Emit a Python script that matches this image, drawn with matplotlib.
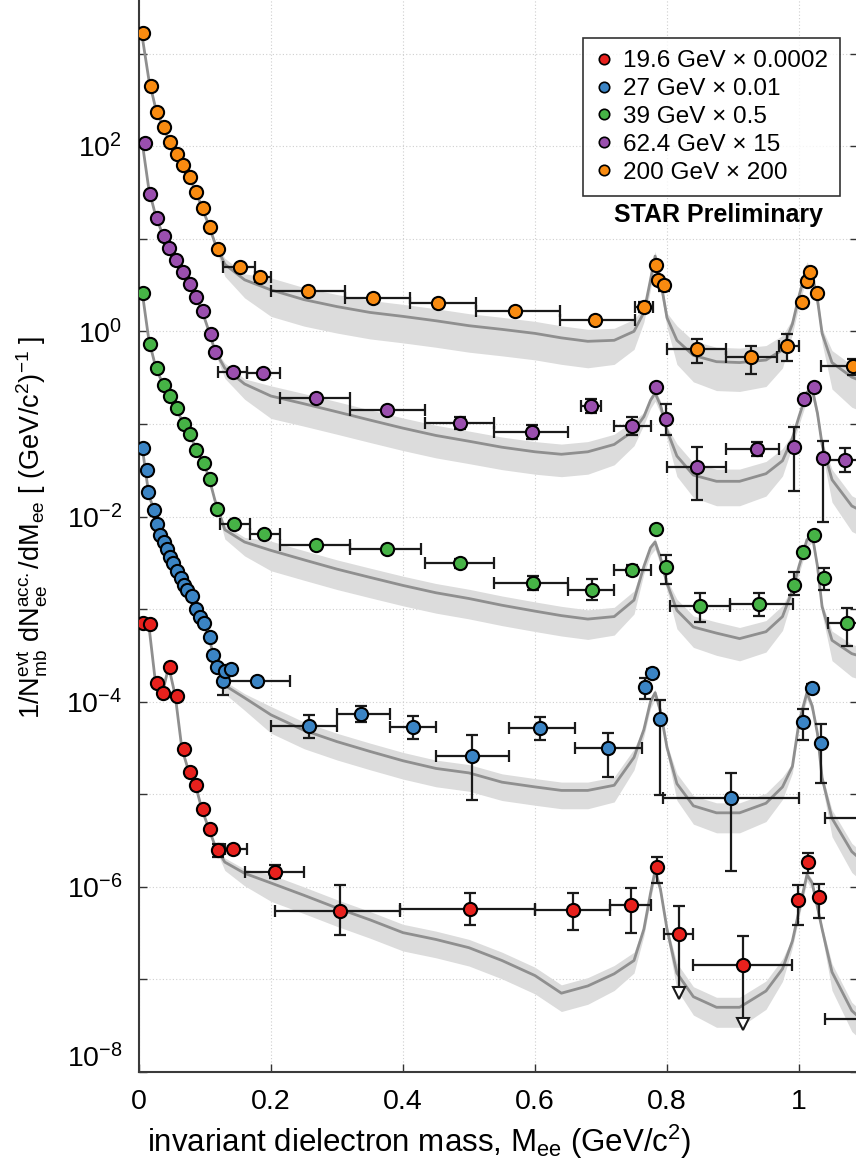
import numpy as np
import matplotlib.pyplot as plt
import matplotlib.transforms as mtransforms
from matplotlib.ticker import FixedLocator, FuncFormatter, NullLocator
from matplotlib.lines import Line2D

plt.rcParams['font.family'] = ['Liberation Sans', 'DejaVu Sans']
plt.rcParams['mathtext.fontset'] = 'custom'
plt.rcParams['mathtext.rm'] = 'Liberation Sans'
plt.rcParams['mathtext.it'] = 'Liberation Sans:italic'
plt.rcParams['mathtext.bf'] = 'Liberation Sans:bold'
plt.rcParams['mathtext.default'] = 'regular'

na = np.nan

# ---- measured spectra (already scaled) ----
# 19.6 GeV x 0.0002
RED_M = [0.0065, 0.017, 0.027, 0.037, 0.047, 0.057, 0.068, 0.077, 0.086, 0.097, 0.108, 0.12,
         0.143, 0.206, 0.305, 0.502, 0.658, 0.745, 0.785, 0.818, 0.915, 0.999, 1.014, 1.03, 1.10]
RED_Y = [7.1e-4, 6.9e-4, 1.58e-4, 1.23e-4, 2.38e-4, 1.16e-4, 3.08e-5, 1.75e-5, 1.26e-5, 6.87e-6, 4.18e-6, 2.49e-6,
         2.54e-6, 1.45e-6, 5.5e-7, 5.75e-7, 5.6e-7, 6.35e-7, 1.63e-6, 3.07e-7, 1.43e-7, 7.2e-7, 1.87e-6, 7.7e-7, 3.7e-8]
RED_XLO = [na]*12 + [0.13, 0.16, 0.206, 0.395, 0.6, 0.714, na, 0.795, 0.84, na, na, na, 1.04]
RED_XHI = [na]*12 + [0.163, 0.25, 0.395, 0.6, 0.714, 0.776, na, 0.84, 0.99, na, na, na, 1.16]
RED_YLO = [na]*11 + [2.1e-6, na, 1.25e-6, 3.0e-7, 3.86e-7, 3.4e-7, 3.2e-7, 1.11e-6, 7.1e-8, 3.3e-8, 3.86e-7, 1.42e-6, 4.57e-7, na]
RED_YHI = [na]*11 + [2.9e-6, na, 1.7e-6, 1.04e-6, 8.57e-7, 8.6e-7, 9.64e-7, 2.11e-6, 6.25e-7, 2.97e-7, 1.04e-6, 2.3e-6, 1.07e-6, na]
RED_LIMIT = [False]*19 + [True, True] + [False]*4

# 27 GeV x 0.01
BLUE_M = [0.0056, 0.0117, 0.014, 0.023, 0.027, 0.032, 0.038, 0.042, 0.047, 0.052, 0.057, 0.063, 0.068,
          0.073, 0.08, 0.087, 0.093, 0.098, 0.107, 0.112, 0.118, 0.127, 0.13, 0.139, 0.179,
          0.258, 0.336, 0.415, 0.505, 0.608, 0.71, 0.767, 0.778, 0.789, 0.897, 1.006, 1.02, 1.033, 1.10]
BLUE_Y = [0.0552, 0.0317, 0.0185, 0.0119, 0.00828, 0.0063, 0.00533, 0.00442, 0.00367, 0.00311, 0.00259, 0.00214, 0.00182,
          0.0016, 0.00138, 0.00099, 0.00083, 0.00071, 5.02e-4, 3.18e-4, 2.38e-4, 1.67e-4, 2.16e-4, 2.23e-4, 1.67e-4,
          5.46e-5, 7.35e-5, 5.32e-5, 2.59e-5, 5.19e-5, 3.13e-5, 1.45e-4, 2.02e-4, 6.49e-5, 9.16e-6, 6.07e-5, 1.41e-4, 3.6e-5, 5.6e-6]
BLUE_XLO = [na]*24 + [0.13, 0.2, 0.3, 0.38, 0.45, 0.56, 0.66, na, na, na, 0.794, na, na, na, 1.04]
BLUE_XHI = [na]*24 + [0.229, 0.3, 0.38, 0.45, 0.56, 0.66, 0.762, na, na, na, 1.0, na, na, na, 1.16]
BLUE_YLO = [na]*21 + [1.18e-4, na, na, na, 4.05e-5, 6.0e-5, 4.0e-5, 8.65e-6, 3.9e-5, 1.55e-5,
                      1.06e-4, 1.8e-4, 9.8e-6, 1.49e-6, 3.85e-5, 1.3e-4, 1.33e-5, na]
BLUE_YHI = [na]*21 + [2.4e-4, na, na, na, 7.16e-5, 9.0e-5, 7.0e-5, 4.35e-5, 6.9e-5, 4.55e-5,
                      1.8e-4, 2.25e-4, 1.04e-4, 1.68e-5, 8.26e-5, 1.55e-4, 5.73e-5, na]

# 39 GeV x 0.5
GREEN_M = [0.0065, 0.017, 0.027, 0.038, 0.047, 0.057, 0.068, 0.078, 0.087, 0.098, 0.108, 0.118, 0.144, 0.189,
           0.268, 0.376, 0.486, 0.597, 0.686, 0.747, 0.783, 0.798, 0.85, 0.94, 0.993, 1.0065, 1.022, 1.038, 1.072]
GREEN_Y = [2.61, 0.728, 0.397, 0.262, 0.20, 0.147, 0.101, 0.0776, 0.052, 0.0374, 0.0254, 0.0122, 0.0084, 0.0064,
           0.0049, 0.00445, 0.00314, 0.00191, 0.0016, 0.00264, 0.0074, 0.00282, 0.00109, 0.00113, 0.00182, 0.0041, 0.0063, 0.00214, 0.00071]
GREEN_XLO = [na]*12 + [0.122, 0.168, 0.214, 0.32, 0.433, 0.538, 0.65, 0.72, na, na, 0.805, 0.896, na, na, na, na, 1.044]
GREEN_XHI = [na]*12 + [0.168, 0.214, 0.32, 0.428, 0.538, 0.65, 0.72, 0.775, na, na, 0.896, 0.991, na, na, na, na, 1.10]
GREEN_YLO = [na]*16 + [0.0028, 0.0016, 0.00125, 0.00235, na, 0.00186, 0.00073, 0.00085, 0.00142, na, na, 0.0016, 0.0004]
GREEN_YHI = [na]*16 + [0.0035, 0.0023, 0.0021, 0.003, na, 0.00383, 0.00148, 0.00148, 0.00253, na, na, 0.00275, 0.00102]

# 62.4 GeV x 15
PURPLE_M = [0.009, 0.017, 0.027, 0.038, 0.046, 0.056, 0.067, 0.078, 0.086, 0.097, 0.109, 0.115, 0.143, 0.188,
            0.268, 0.376, 0.486, 0.595, 0.685, 0.747, 0.783, 0.798, 0.845, 0.936, 0.992, 1.008, 1.022, 1.036, 1.07]
PURPLE_Y = [108.6, 30.3, 16.8, 10.7, 7.98, 5.87, 4.39, 3.21, 2.36, 1.65, 0.925, 0.60, 0.366, 0.354,
            0.19, 0.141, 0.102, 0.081, 0.155, 0.095, 0.252, 0.112, 0.034, 0.053, 0.056, 0.188, 0.252, 0.043, 0.041]
PURPLE_XLO = [na]*12 + [0.12, 0.164, 0.214, 0.32, 0.433, 0.538, 0.67, 0.72, na, na, 0.80, 0.89, na, na, na, na, 1.04]
PURPLE_XHI = [na]*12 + [0.164, 0.214, 0.32, 0.433, 0.538, 0.65, 0.70, 0.776, na, na, 0.89, 0.97, na, na, na, na, 1.10]
PURPLE_YLO = [na]*16 + [0.088, 0.068, 0.13, 0.075, na, 0.075, 0.015, 0.045, 0.019, na, na, 0.0088, 0.03]
PURPLE_YHI = [na]*16 + [0.118, 0.098, 0.185, 0.12, na, 0.163, 0.056, 0.063, 0.093, na, na, 0.066, 0.055]

# 200 GeV x 200
ORANGE_M = [0.006, 0.018, 0.027, 0.038, 0.047, 0.057, 0.067, 0.077, 0.086, 0.097, 0.108, 0.12, 0.153, 0.183,
            0.256, 0.355, 0.453, 0.57, 0.691, 0.765, 0.783, 0.787, 0.795, 0.845, 0.927, 0.982,
            1.004, 1.012, 1.017, 1.027, 1.082]
ORANGE_Y = [1660, 445, 233, 160, 110, 83, 62, 46, 32, 21.4, 13.3, 7.8, 4.9, 3.85,
            2.7, 2.28, 2.02, 1.65, 1.32, 1.84, 5.19, 3.57, 3.16, 0.643, 0.522, 0.70,
            2.08, 3.51, 4.4, 2.57, 0.42]
ORANGE_XLO = [na]*12 + [0.127, 0.176, 0.2, 0.312, 0.41, 0.51, 0.638, 0.752, na, na, na, 0.80, 0.89, 0.97,
                        na, na, na, na, 1.034]
ORANGE_XHI = [na]*12 + [0.176, 0.2, 0.312, 0.41, 0.51, 0.638, 0.752, 0.779, na, na, na, 0.89, 0.966, 1.0,
                        na, na, na, na, 1.13]
ORANGE_YLO = [na]*19 + [1.6, na, na, 2.75, 0.457, 0.35, 0.48, na, na, na, na, 0.34]
ORANGE_YHI = [na]*19 + [2.1, na, na, 3.5, 0.824, 0.69, 0.93, na, na, na, na, 0.5]

# ---- cocktail simulations ----
MASS_GRID = [0.005, 0.015, 0.025, 0.035, 0.045, 0.055, 0.065, 0.075, 0.085, 0.095, 0.105, 0.115,
             0.13, 0.16, 0.2, 0.25, 0.3, 0.35, 0.4, 0.45, 0.5, 0.55, 0.6, 0.64, 0.68, 0.72, 0.75,
             0.765, 0.775, 0.782, 0.79, 0.8, 0.815, 0.84, 0.875, 0.91, 0.95, 0.975, 0.99, 1.0,
             1.012, 1.02, 1.028, 1.035, 1.05, 1.08, 1.1]
COCKTAIL_RED = [7.0e-4, 6.6e-4, 1.6e-4, 1.2e-4, 2.4e-4, 1.15e-4, 3.1e-5, 1.8e-5, 1.3e-5, 7.0e-6, 4.4e-6, 2.8e-6,
                1.85e-6, 1.4e-6, 1.1e-6, 8.1e-7, 5.9e-7, 4.4e-7, 3.2e-7, 2.7e-7, 2.2e-7, 1.6e-7, 1.1e-7, 7.1e-8,
                8.5e-8, 1.15e-7, 1.6e-7, 3.5e-7, 8.5e-7, 1.5e-6, 9.5e-7, 3.5e-7, 1.17e-7, 6.5e-8, 5.0e-8,
                5.0e-8, 7.5e-8, 1.3e-7, 2.6e-7, 5.5e-7, 1.35e-6, 1.1e-6, 6.0e-7, 3.5e-7, 1.2e-7, 4.6e-8, 3.4e-8]
COCKTAIL_BLUE = [0.055, 0.017, 0.0105, 0.0058, 0.0039, 0.0028, 0.002, 0.00155, 0.0011, 0.00078, 0.00052, 0.00028,
                 1.5e-4, 1.1e-4, 7.2e-5, 4.9e-5, 3.7e-5, 2.9e-5, 2.3e-5, 1.9e-5, 1.7e-5, 1.35e-5, 1.2e-5, 1.1e-5,
                 1.1e-5, 1.25e-5, 2.5e-5, 5e-5, 1.0e-4, 1.25e-4, 8e-5, 3.2e-5, 1.3e-5, 7.5e-6, 6.3e-6,
                 6.3e-6, 8e-6, 1.2e-5, 2.0e-5, 6e-5, 1.25e-4, 9e-5, 4.5e-5, 1.5e-5, 5.5e-6, 2.4e-6, 1.8e-6]
COCKTAIL_GREEN = [2.6, 0.8, 0.42, 0.28, 0.2, 0.15, 0.11, 0.082, 0.057, 0.041, 0.028, 0.015,
                  0.0072, 0.0053, 0.0043, 0.0034, 0.0027, 0.0022, 0.0018, 0.0015, 0.0013, 0.0011, 0.00095, 0.00085,
                  0.00078, 0.00083, 0.00125, 0.0029, 0.0046, 0.0053, 0.0036, 0.0019, 0.00097, 0.00064, 0.00055,
                  0.00048, 0.00057, 0.00083, 0.0016, 0.0029, 0.0056, 0.0063, 0.0029, 0.00106, 0.00046, 0.00033, 0.0003]
COCKTAIL_PURPLE = [108, 34, 18, 11.5, 8.2, 6.0, 4.6, 3.4, 2.45, 1.7, 1.05, 0.62,
                   0.40, 0.27, 0.2, 0.165, 0.135, 0.11, 0.09, 0.075, 0.065, 0.056, 0.05, 0.047,
                   0.05, 0.06, 0.085, 0.12, 0.18, 0.215, 0.16, 0.085, 0.045, 0.028, 0.024,
                   0.024, 0.029, 0.04, 0.07, 0.12, 0.22, 0.24, 0.13, 0.06, 0.025, 0.013, 0.011]
COCKTAIL_ORANGE = [1500, 520, 260, 170, 118, 88, 65, 48, 34, 22, 14.5, 9.0,
                   5.3, 3.6, 2.8, 2.2, 1.85, 1.6, 1.45, 1.3, 1.15, 1.05, 0.95, 0.85,
                   0.78, 0.8, 1.0, 1.6, 3.6, 6.5, 3.6, 1.4, 0.8, 0.55, 0.47,
                   0.46, 0.49, 0.63, 1.2, 2.4, 5.0, 4.0, 2.2, 0.95, 0.46, 0.32, 0.28]

# systematic band of the cocktail, in decades below / above the central line
BAND_DN = [0.02]*12 + [0.10, 0.15] + [0.22]*11 + [0.2, 0.15] + [0.08]*5 + \
          [0.2, 0.22, 0.24, 0.24, 0.22, 0.15] + [0.08]*6 + [0.22, 0.25, 0.25]
BAND_UP = [0.02]*12 + [0.05, 0.05] + [0.1]*13 + [0.04]*5 + [0.12]*6 + [0.04]*6 + [0.1]*3
BAND_RED, BAND_BLUE, BAND_GREEN, BAND_PURPLE, BAND_ORANGE = 0.9, 0.9, 1.0, 1.1, 1.3

LABELS = ['19.6 GeV \u00d7 0.0002', '27 GeV \u00d7 0.01', '39 GeV \u00d7 0.5',
          '62.4 GeV \u00d7 15', '200 GeV \u00d7 200']
COLORS = ['#e8211d', '#3b84c4', '#46b346', '#9a4fae', '#f98b10']

series = [
    (RED_M, RED_Y, RED_XLO, RED_XHI, RED_YLO, RED_YHI, COCKTAIL_RED, BAND_RED),
    (BLUE_M, BLUE_Y, BLUE_XLO, BLUE_XHI, BLUE_YLO, BLUE_YHI, COCKTAIL_BLUE, BAND_BLUE),
    (GREEN_M, GREEN_Y, GREEN_XLO, GREEN_XHI, GREEN_YLO, GREEN_YHI, COCKTAIL_GREEN, BAND_GREEN),
    (PURPLE_M, PURPLE_Y, PURPLE_XLO, PURPLE_XHI, PURPLE_YLO, PURPLE_YHI, COCKTAIL_PURPLE, BAND_PURPLE),
    (ORANGE_M, ORANGE_Y, ORANGE_XLO, ORANGE_XHI, ORANGE_YLO, ORANGE_YHI, COCKTAIL_ORANGE, BAND_ORANGE),
]

EBAR = '#1a1a1a'

fig = plt.figure(figsize=(8.56, 11.66), dpi=100)
ax = fig.add_axes([139/856, 94/1166, 719.4/856, 1111/1166])

grid = np.array(MASS_GRID)
dn = np.array(BAND_DN)
up = np.array(BAND_UP)

for (m, y, xlo, xhi, ylo, yhi, cock, bscale), col in zip(series, COLORS):
    m, y = np.array(m), np.array(y)
    xlo, xhi = np.array(xlo), np.array(xhi)
    ylo, yhi = np.array(ylo), np.array(yhi)
    cock = np.array(cock)

    # cocktail line and its band
    ax.fill_between(grid, cock * 10**(-dn*bscale), cock * 10**(up*bscale),
                    color='#dcdcdc', lw=0, zorder=1)
    ax.plot(grid, cock, color='#8f8f8f', lw=2.0, zorder=2)

    hx = ~np.isnan(xlo)
    ax.errorbar(m[hx], y[hx], xerr=[m[hx]-xlo[hx], xhi[hx]-m[hx]], fmt='none',
                ecolor=EBAR, elinewidth=1.6, capsize=4.5, capthick=1.6, zorder=3)
    hy = ~np.isnan(ylo)
    lim = np.zeros(len(m), bool)
    if col == COLORS[0]:
        lim = np.array(RED_LIMIT)
    norm = hy & ~lim
    ax.errorbar(m[norm], y[norm], yerr=[y[norm]-ylo[norm], yhi[norm]-y[norm]], fmt='none',
                ecolor=EBAR, elinewidth=1.6, capsize=4.5, capthick=1.6, zorder=3)
    if lim.any():
        # upper limits: bar runs down to an open arrow head
        ax.errorbar(m[lim], y[lim], yerr=[np.zeros(lim.sum()), yhi[lim]-y[lim]], fmt='none',
                    ecolor=EBAR, elinewidth=1.6, capsize=4.5, capthick=1.6, zorder=3)
        for mi, yi, ti in zip(m[lim], y[lim], ylo[lim]):
            ax.plot([mi, mi], [yi, ti], color=EBAR, lw=1.6, zorder=3)
            ax.plot(mi, ti, marker='v', ms=9, mfc='white', mec=EBAR, mew=1.5, zorder=4)

    ax.plot(m, y, 'o', ms=9.5, mfc=col, mec='black', mew=1.5, zorder=5)

ax.set_yscale('log')
ax.set_xlim(0, 1.09)
ax.set_ylim(1e-8, 1e4)


def ylab(v, pos):
    k = int(round(np.log10(v)))
    if k % 2 or k > 2:
        return ''
    return r'$10^{%d}$' % k


ax.xaxis.set_major_locator(FixedLocator([0, 0.2, 0.4, 0.6, 0.8, 1.0]))
ax.xaxis.set_major_formatter(FuncFormatter(lambda v, p: '%g' % v))
ax.yaxis.set_major_locator(FixedLocator([10.0**k for k in range(-8, 5)]))
ax.yaxis.set_minor_locator(NullLocator())
ax.yaxis.set_major_formatter(FuncFormatter(ylab))

ax.tick_params(axis='both', which='major', direction='in', length=6, width=1.0,
               labelsize=20.5, top=True, right=True, color='#333333', pad=12)
for s in ax.spines.values():
    s.set_color('#3a3a3a')
    s.set_linewidth(1.5)
ax.grid(True, which='major', ls=(0, (1, 2)), lw=0.8, color='#cfcfcf', zorder=0)
ax.set_axisbelow(True)

ax.set_xlabel(r'invariant dielectron mass, M$_{ee}$ (GeV/c$^{2}$)', fontsize=22.5)
ax.xaxis.set_label_coords(0.39, -0.046)
ax.set_ylabel(r'1/N$_{mb}^{evt}$ dN$_{ee}^{acc.}$/dM$_{ee}$ [ (GeV/c$^{2}$)$^{-1}$ ]', fontsize=19.5)
ax.yaxis.set_label_coords(-0.124, 0.49)

handles = [Line2D([], [], ls='none', marker='o', ms=7.5, mfc=c, mec='black', mew=1.2) for c in COLORS]
leg = fig.legend(handles, LABELS, loc='upper left', bbox_to_anchor=(583/856, 1 - 38/1166),
                 fontsize=17.5, frameon=True, fancybox=False, edgecolor='black',
                 handlelength=0.7, handletextpad=0.45, labelspacing=0.24, borderpad=0.5,
                 borderaxespad=0)
leg.get_frame().set_linewidth(1.2)

fig.text(718/856, 1 - 215/1166, 'STAR Preliminary', fontsize=18, fontweight='bold',
         ha='center', va='center')

# the lowest y label sits a little above its tick
fig.canvas.draw()
low = ax.yaxis.get_major_ticks()[0].label1
low.set_transform(low.get_transform() +
                  mtransforms.ScaledTranslation(0, 0.16, fig.dpi_scale_trans))

fig.savefig('out.png', dpi=100)
